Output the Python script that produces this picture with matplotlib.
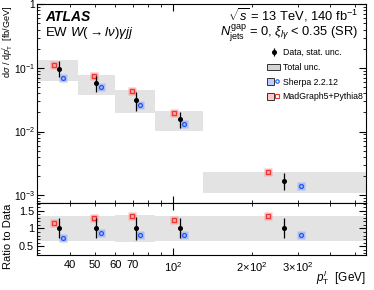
import numpy as np
import matplotlib
matplotlib.use("Agg")
import matplotlib.pyplot as plt
from matplotlib.patches import Patch
from matplotlib.lines import Line2D
from matplotlib.legend_handler import HandlerTuple
from matplotlib.ticker import FixedLocator, FuncFormatter, LogLocator, MultipleLocator, NullFormatter

plt.rcParams["font.family"] = ["Liberation Sans", "DejaVu Sans"]
plt.rcParams["mathtext.fontset"] = "custom"
plt.rcParams["mathtext.rm"] = "Liberation Sans"
plt.rcParams["mathtext.it"] = "Liberation Sans:italic"
plt.rcParams["mathtext.bf"] = "Liberation Sans:bold"

# bins in lepton pT [GeV]
bin_edges = [30, 43, 60, 85, 130, 550]

# measured cross section [fb/GeV] and relative uncertainties
x_data = [36.3, 50.5, 71.8, 105.7, 266]
data = [0.0975, 0.0578, 0.0318, 0.0158, 0.00169]
stat_up = [0.30, 0.29, 0.33, 0.29, 0.31]
stat_dn = [0.27, 0.28, 0.33, 0.28, 0.28]
tot_up = [0.35, 0.35, 0.39, 0.35, 0.35]
tot_dn = [0.35, 0.35, 0.39, 0.35, 0.36]

# predictions
x_sherpa = [37.6, 52.9, 74.3, 110.2, 309]
sherpa = [0.0702, 0.0499, 0.0261, 0.0129, 0.00139]
x_mg = [34.9, 49.6, 69.5, 100.9, 231]
madgraph = [0.1127, 0.0746, 0.0426, 0.0197, 0.00229]

data = np.array(data)
edges = np.array(bin_edges)
r_sherpa = np.array(sherpa) / data
r_mg = np.array(madgraph) / data

fig = plt.figure(figsize=(3.74, 2.90), dpi=100)
ax = fig.add_axes([0.099, 0.301, 0.880, 0.686])
rax = fig.add_axes([0.099, 0.121, 0.880, 0.180], sharex=ax)

gray = "#e3e3e3"
red_halo = (1.0, 0.55, 0.55, 0.6)
blue_halo = (0.55, 0.65, 1.0, 0.6)


def draw(a, y, s_up, s_dn, t_up, t_dn, mg, sh):
    for i in range(len(y)):
        lo = y[i] * (1 - t_dn[i])
        hi = y[i] * (1 + t_up[i])
        a.fill_between([edges[i], edges[i + 1]], lo, hi, color=gray, lw=0, zorder=1)
    a.plot(x_mg, mg, ls="none", marker="s", ms=5.8, mfc=red_halo, mec="none", zorder=2)
    a.plot(x_mg, mg, ls="none", marker="s", ms=3.3, mfc="none", mec="#ee3333", mew=0.9, zorder=3)
    a.plot(x_sherpa, sh, ls="none", marker="s", ms=5.2, mfc=blue_halo, mec="none", zorder=2)
    a.plot(x_sherpa, sh, ls="none", marker="o", ms=2.8, mfc="none", mec="#2255ee", mew=0.9, zorder=3)
    return a.errorbar(x_data, y, yerr=[y * np.array(s_dn), y * np.array(s_up)], fmt="o",
                      color="black", ms=2.6, elinewidth=0.9, capsize=0, zorder=4)


h_data = draw(ax, data, stat_up, stat_dn, tot_up, tot_dn, madgraph, sherpa)
draw(rax, np.ones(len(data)), stat_up, stat_dn, tot_up, tot_dn, r_mg, r_sherpa)

ax.set_xscale("log")
ax.set_yscale("log")
ax.set_xlim(30, 550)
ax.set_ylim(7.6e-4, 1.02)
rax.set_ylim(0.25, 1.73)

for a in (ax, rax):
    a.tick_params(which="both", direction="in", top=True, right=True, labelsize=7.8, pad=2)
    a.tick_params(which="major", length=5)
    a.tick_params(which="minor", length=2.5)
ax.tick_params(axis="y", labelsize=7.4, pad=1.5)

ax.yaxis.set_minor_locator(LogLocator(base=10, subs=np.arange(2, 10), numticks=10))
ax.yaxis.set_minor_formatter(NullFormatter())
ax.set_yticks([1e-3, 1e-2, 1e-1, 1])
ax.set_yticklabels([r"$10^{-3}$", r"$10^{-2}$", r"$10^{-1}$", "1"])

rax.xaxis.set_major_locator(FixedLocator([100]))
rax.xaxis.set_minor_locator(FixedLocator([40, 50, 60, 70, 80, 90, 200, 300, 400, 500]))
labels = {40: "40", 50: "50", 60: "60", 70: "70", 100: r"$10^{2}$",
          200: r"$2\!\times\!10^{2}$", 300: r"$3\!\times\!10^{2}$"}
fmt = FuncFormatter(lambda v, p: labels.get(int(round(v)), ""))
rax.xaxis.set_major_formatter(fmt)
rax.xaxis.set_minor_formatter(fmt)
rax.tick_params(axis="x", which="both", labelsize=8, pad=4)
plt.setp(ax.get_xticklabels(which="both"), visible=False)

rax.yaxis.set_major_locator(FixedLocator([0.5, 1.0, 1.5]))
rax.yaxis.set_minor_locator(MultipleLocator(0.1))
rax.set_yticklabels(["0.5", "1", "1.5"])

ax.set_ylabel(r"d$\sigma$ / d$p_{\mathrm{T}}^{l}$  [fb/GeV]", fontsize=6.6, loc="top")
ax.yaxis.set_label_coords(-0.066, 0.99)
rax.set_ylabel("Ratio to Data", fontsize=8)
rax.yaxis.set_label_coords(-0.074, 0.36)
rax.set_xlabel(r"$p_{\mathrm{T}}^{l}$  [GeV]", fontsize=8.5, loc="right")
rax.xaxis.set_label_coords(1.0, -0.26)

ax.text(0.025, 0.935, "ATLAS", transform=ax.transAxes, fontsize=10,
        fontweight="bold", fontstyle="italic", va="center")
ax.text(0.025, 0.852, r"EW $W(\rightarrow l\nu)\gamma jj$", transform=ax.transAxes,
        fontsize=9.5, va="center")
ax.text(0.975, 0.945, r"$\sqrt{s}$ = 13 TeV, 140 fb$^{-1}$", transform=ax.transAxes,
        fontsize=9.3, ha="right", va="center")
ax.text(0.975, 0.85, r"$N_{\mathrm{jets}}^{\mathrm{gap}}$ = 0, $\xi_{l\gamma}$ < 0.35 (SR)",
        transform=ax.transAxes, fontsize=9.3, ha="right", va="center")

h_tot = Patch(facecolor="#d4d4d4", edgecolor="#333333", lw=0.7)
h_sh = (Patch(facecolor=(0.75, 0.8, 1.0), edgecolor="#333333", lw=0.7),
        Line2D([], [], marker="o", ms=2.5, mfc="none", mec="#2255ee", mew=0.8, lw=0))
h_mg = (Patch(facecolor=(1.0, 0.78, 0.78), edgecolor="#333333", lw=0.7),
        Line2D([], [], marker="s", ms=2.6, mfc="none", mec="#ee3333", mew=0.8, lw=0))
ax.legend([h_data, h_tot, h_sh, h_mg],
          ["Data, stat. unc.", "Total unc.", "Sherpa 2.2.12", "MadGraph5+Pythia8"],
          handler_map={tuple: HandlerTuple(ndivide=None, pad=0)},
          loc="upper left", bbox_to_anchor=(0.688, 0.794), frameon=False, fontsize=6.3,
          handlelength=1.5, handleheight=0.8, handletextpad=0.3, labelspacing=0.65,
          borderaxespad=0)

fig.savefig("out.png", dpi=100)
